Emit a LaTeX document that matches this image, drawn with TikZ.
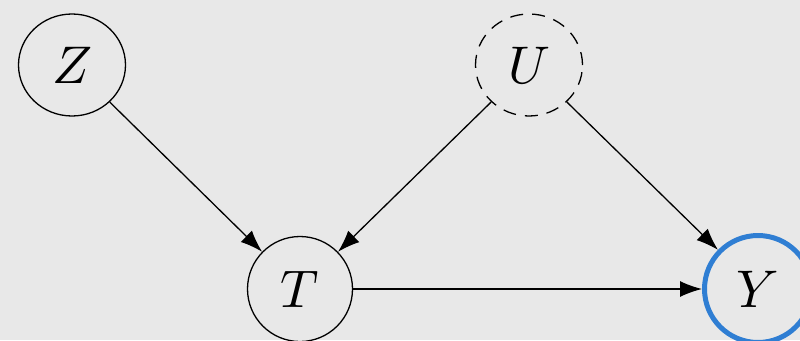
\documentclass[tikz,border=0pt]{standalone}
\usepackage{graphicx}
\usetikzlibrary{arrows.meta,shapes.geometric}
\definecolor{bg}{HTML}{E8E8E8}
\definecolor{yblue}{HTML}{2F7ED3}
\newcommand{\bigv}[1]{\scalebox{5.3}{$#1$}}
\begin{document}
\begin{tikzpicture}[x=1pt,y=-1pt,
  var/.style={ellipse,draw=black,line width=1.3pt,minimum width=107pt,minimum height=102pt,inner sep=0pt},
  edge/.style={line width=1.3pt,-{Latex[length=22pt,width=16pt]}}]
\fill[bg] (0,0) rectangle (800,340);
\useasboundingbox (0,0) rectangle (800,340);
\node[var] (Z) at (72,65) {\bigv{Z}};
\node[var,dashed,dash pattern=on 13pt off 9pt] (U) at (529,65) {\bigv{U}};
\node[var,circle,minimum size=105pt] (T) at (300,289) {\bigv{T}};
\node[var,circle,minimum size=107pt,draw=yblue,line width=5pt] (Y) at (758,289) {\bigv{Y}};
\draw[edge] (Z) -- (T);
\draw[edge] (U) -- (T);
\draw[edge] (U) -- (Y);
\draw[edge] (T) -- (Y);
\end{tikzpicture}
\end{document}
